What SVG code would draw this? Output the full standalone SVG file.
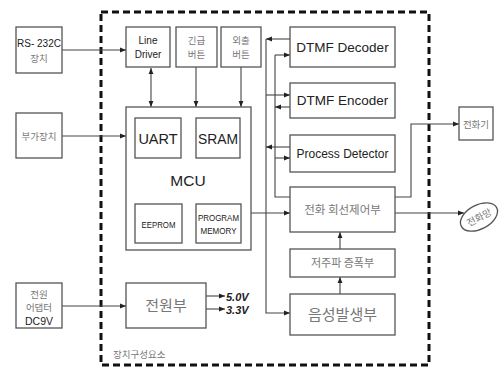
<svg xmlns="http://www.w3.org/2000/svg" width="502" height="369" viewBox="0 0 502 369">
<defs>
<marker id="ah" viewBox="0 0 10 10" refX="10" refY="5" markerWidth="6" markerHeight="6" orient="auto-start-reverse" markerUnits="userSpaceOnUse">
<path d="M0,1 L10,5 L0,9 Z" fill="#222"/>
</marker>
<style>
.b{fill:#fff;stroke:#555;stroke-width:1.3}
.c{fill:none;stroke:#444;stroke-width:1.1}
.t{font-family:"Liberation Sans",Arial,"Noto Sans CJK KR",sans-serif;text-anchor:middle;fill:#222}
.k{font-family:"Noto Sans CJK KR","Liberation Sans",sans-serif;text-anchor:middle;fill:#777}
</style>
</defs>
<rect x="101" y="12" width="328" height="353" fill="none" stroke="#111" stroke-width="3" stroke-dasharray="7 4"/>
<text class="k" x="113" y="358" font-size="9.5" style="text-anchor:start">장치구성요소</text>

<g id="connectors">
<path class="c" d="M62,50 H126" marker-end="url(#ah)"/>
<path class="c" d="M62,136 H126" marker-end="url(#ah)"/>
<path class="c" d="M62,306 H126" marker-end="url(#ah)"/>
<path class="c" d="M151,68 V107" marker-start="url(#ah)" marker-end="url(#ah)"/>
<path class="c" d="M196,67 V107" marker-end="url(#ah)"/>
<path class="c" d="M241,67 V107" marker-end="url(#ah)"/>
<path class="c" d="M206,296 H225" marker-end="url(#ah)"/>
<path class="c" d="M206,309 H225" marker-end="url(#ah)"/>
<path class="c" d="M290,39 H266" marker-end="url(#ah)"/>
<path class="c" d="M266,39 V313 H290" marker-end="url(#ah)"/>
<path class="c" d="M275,55 H290" marker-end="url(#ah)"/>
<path class="c" d="M275,55 V197 H290"/>
<path class="c" d="M266,95 H290" marker-end="url(#ah)"/>
<path class="c" d="M290,107 H275" marker-end="url(#ah)"/>
<path class="c" d="M290,147 H266" marker-end="url(#ah)" stroke-width="1.6"/>
<path class="c" d="M275,158 H290" marker-end="url(#ah)"/>
<path class="c" d="M251,213 H290" marker-end="url(#ah)"/>
<path class="c" d="M395,197 H411 V124 H459" marker-end="url(#ah)"/>
<path class="c" d="M395,213 H464" marker-end="url(#ah)"/>
<path class="c" d="M340,249 V232" marker-end="url(#ah)"/>
<path class="c" d="M340,294 V277" marker-end="url(#ah)"/>
</g>

<g id="rs232c"><rect class="b" x="16" y="27" width="46" height="46"/>
<text class="t" x="39" y="47" font-size="10">RS- 232C</text>
<text class="k" x="39" y="62" font-size="9.5">장치</text></g>
<g id="buga"><rect class="b" x="16" y="113" width="46" height="45"/>
<text class="k" x="39" y="139.5" font-size="9.5">부가장치</text></g>
<g id="adapter"><rect class="b" x="16" y="283" width="46" height="45"/>
<text class="k" x="39" y="298" font-size="9.5">전원</text>
<text class="k" x="39" y="311" font-size="9.5">어댑터</text>
<text class="t" x="39" y="325" font-size="10.5">DC9V</text></g>

<g id="linedriver"><rect class="b" x="126" y="27" width="44" height="40"/>
<text class="t" x="148" y="44" font-size="10">Line</text>
<text class="t" x="148" y="58" font-size="10">Driver</text></g>
<g id="emergency"><rect class="b" x="176" y="27" width="41" height="40"/>
<text class="k" x="196.5" y="44" font-size="9.5">긴급</text>
<text class="k" x="196.5" y="58" font-size="9.5">버튼</text></g>
<g id="outing"><rect class="b" x="221" y="27" width="40" height="40"/>
<text class="k" x="241" y="44" font-size="9.5">외출</text>
<text class="k" x="241" y="58" font-size="9.5">버튼</text></g>

<g id="mcu"><rect class="b" x="126" y="107" width="125" height="143"/>
<text class="t" x="188" y="186" font-size="15.5">MCU</text>
<g id="uart"><rect class="b" x="135" y="118" width="46" height="40"/>
<text class="t" x="158" y="144" font-size="14.5">UART</text></g>
<g id="sram"><rect class="b" x="196" y="118" width="44" height="40"/>
<text class="t" x="218" y="144" font-size="14.5" textLength="40" lengthAdjust="spacingAndGlyphs">SRAM</text></g>
<g id="eeprom"><rect class="b" x="135" y="204" width="47" height="39"/>
<text class="t" x="158.5" y="227.5" font-size="9.5" textLength="34" lengthAdjust="spacingAndGlyphs">EEPROM</text></g>
<g id="progmem"><rect class="b" x="196" y="204" width="45" height="39"/>
<text class="t" x="218.5" y="221" font-size="9" textLength="41" lengthAdjust="spacingAndGlyphs">PROGRAM</text>
<text class="t" x="218.5" y="234" font-size="9" textLength="36" lengthAdjust="spacingAndGlyphs">MEMORY</text></g>
</g>

<g id="power"><rect class="b" x="126" y="283" width="80" height="45"/>
<text class="k" x="166" y="311" font-size="15">전원부</text>
<text class="t" x="226" y="301" font-size="11" font-weight="bold" font-style="italic" style="text-anchor:start">5.0V</text>
<text class="t" x="226" y="314" font-size="11" font-weight="bold" font-style="italic" style="text-anchor:start">3.3V</text></g>

<g id="dtmfdec"><rect class="b" x="290" y="27" width="105" height="40"/>
<text class="t" x="342.5" y="52" font-size="13.5">DTMF Decoder</text></g>
<g id="dtmfenc"><rect class="b" x="290" y="83" width="105" height="35"/>
<text class="t" x="342.5" y="105" font-size="13.5">DTMF Encoder</text></g>
<g id="procdet"><rect class="b" x="290" y="135" width="105" height="37"/>
<text class="t" x="342.5" y="158" font-size="12">Process Detector</text></g>
<g id="lineCtrl"><rect class="b" x="290" y="187" width="105" height="45"/>
<text class="k" x="342.5" y="214" font-size="11.5">전화 회선제어부</text></g>
<g id="amp"><rect class="b" x="290" y="249" width="105" height="28"/>
<text class="k" x="342.5" y="267" font-size="11">저주파 증폭부</text></g>
<g id="voice"><rect class="b" x="290" y="294" width="105" height="41"/>
<text class="k" x="342.5" y="320" font-size="15">음성발생부</text></g>

<g id="phone"><rect class="b" x="459" y="107" width="34" height="33"/>
<text class="k" x="476" y="128" font-size="9.5">전화기</text></g>
<g id="network"><ellipse cx="479" cy="217" rx="20" ry="12" transform="rotate(-28 479 217)" class="b"/>
<text class="k" x="479" y="221" font-size="9.5" transform="rotate(-28 479 217)">전화망</text></g>
</svg>
